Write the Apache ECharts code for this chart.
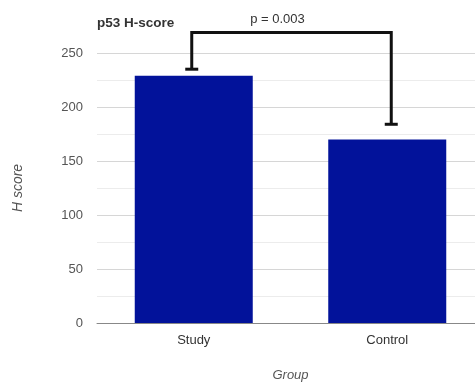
<!DOCTYPE html>
<html><head><meta charset="utf-8">
<script src="https://cdn.jsdelivr.net/npm/echarts@6/dist/echarts.min.js"></script>
<style>html,body{margin:0;padding:0;background:#fff;overflow:hidden;width:475px;height:385px}
#wrap{position:absolute;left:0;top:0;width:475px;height:385px;overflow:hidden}
#c{position:absolute;left:0;top:0;width:490px;height:385px}</style>
</head><body><div id="wrap"><div id="c"></div></div>
<script>
const categories = ['Study', 'Control'];
const meanValues = [229, 170];
const upperValues = [235, 184];
const bracketLevel = 269;
const pLabel = 'p = 0.003';
const yTicks = [0, 50, 100, 150, 200, 250];

const chart = echarts.init(document.getElementById('c'), null, { width: 490, height: 385 });
const font = 'Liberation Sans, Arial, sans-serif';
chart.setOption({
  animation: false,
  title: { text: 'p53 H-score', left: 92, top: 11, textStyle: { fontSize: 13.5, fontWeight: 'bold', color: '#333', fontFamily: font } },
  grid: { left: 97, top: 53, right: 6, bottom: 62, containLabel: false, outerBoundsMode: 'none' },
  xAxis: {
    type: 'category', data: categories,
    axisLine: { lineStyle: { color: '#888', width: 1 } },
    axisTick: { show: false },
    axisLabel: { color: '#333', fontSize: 13, margin: 11, fontFamily: font },
    name: 'Group', nameLocation: 'middle', nameGap: 46,
    nameTextStyle: { fontStyle: 'italic', color: '#555', fontSize: 13, fontFamily: font }
  },
  yAxis: {
    type: 'value', min: yTicks[0], max: yTicks[yTicks.length - 1], interval: 50,
    axisLine: { show: false }, axisTick: { show: false },
    axisLabel: { color: '#555', fontSize: 13, margin: 14, fontFamily: font },
    splitLine: { lineStyle: { color: '#d6d6d6' } },
    minorTick: { show: false, splitNumber: 2 },
    minorSplitLine: { show: true, lineStyle: { color: '#ececec' } },
    name: 'H score', nameLocation: 'middle', nameGap: 72, nameRotate: 90,
    nameTextStyle: { fontStyle: 'italic', color: '#555', fontSize: 14, fontFamily: font }
  },
  series: [
    {
      type: 'bar', data: meanValues, barWidth: 118,
      itemStyle: { color: '#02129A' }
    },
    {
      type: 'custom', clip: false, z: 5,
      data: [[0, 1]],
      renderItem: function (params, api) {
        const s0 = api.coord([0, meanValues[0]]);
        const c0 = api.coord([0, upperValues[0]]);
        const s1 = api.coord([1, meanValues[1]]);
        const c1 = api.coord([1, upperValues[1]]);
        const t0 = api.coord([0, bracketLevel]);
        const t1 = api.coord([1, bracketLevel]);
        const x0 = s0[0] - 2, x1 = s1[0] + 4;
        const style = { stroke: '#111', lineWidth: 3, fill: null };
        const capW = 6.5;
        return {
          type: 'group',
          children: [
            { type: 'polyline', shape: { points: [[x0, c0[1]], [x0, t0[1]], [x1, t1[1]], [x1, c1[1]]] }, style: style },
            { type: 'line', shape: { x1: x0 - capW, y1: c0[1], x2: x0 + capW, y2: c0[1] }, style: style },
            { type: 'line', shape: { x1: x1 - capW, y1: c1[1], x2: x1 + capW, y2: c1[1] }, style: style },
            { type: 'text', x: (x0 + x1) / 2 - 14, y: t0[1] - 7, style: { text: pLabel, fill: '#333', font: '13px ' + font, align: 'center', verticalAlign: 'bottom' } }
          ]
        };
      }
    }
  ]
});
</script></body></html>
